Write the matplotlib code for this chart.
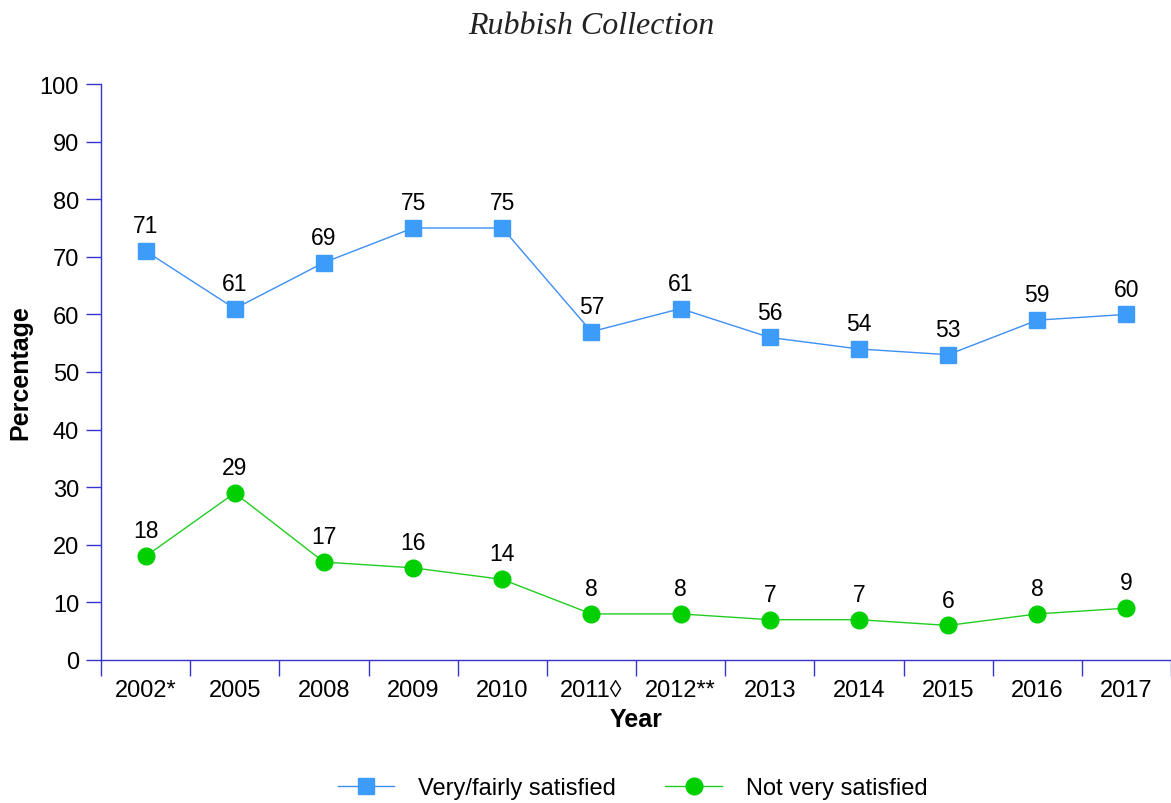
import matplotlib
matplotlib.use("Agg")
import matplotlib.pyplot as plt
from matplotlib.ticker import FixedLocator, NullFormatter

categories = ["2002*", "2005", "2008", "2009", "2010", "2011\u25ca", "2012**",
              "2013", "2014", "2015", "2016", "2017"]
satisfied = [71, 61, 69, 75, 75, 57, 61, 56, 54, 53, 59, 60]
not_satisfied = [18, 29, 17, 16, 14, 8, 8, 7, 7, 6, 8, 9]
yticks = [0, 10, 20, 30, 40, 50, 60, 70, 80, 90, 100]

plt.rcParams['font.family'] = ['Liberation Sans', 'DejaVu Sans']

fig = plt.figure(figsize=(11.71, 8.04), dpi=100)
ax = fig.add_axes([101/1171, 1-661/804, 1-101/1171, (661-85)/804])

x = list(range(len(categories)))
blue_line = "#3d8ff5"
blue_mk = "#3d9bfa"
green_line = "#22cc22"
green_mk = "#00d000"
axis_col = "#3535cc"

ax.plot(x, satisfied, color=blue_line, lw=1.0, marker="s", markersize=11,
        markerfacecolor=blue_mk, markeredgecolor=blue_mk, label="Very/fairly satisfied",
        clip_on=False, zorder=3)
ax.plot(x, not_satisfied, color=green_line, lw=1.0, marker="o", markersize=12,
        markerfacecolor=green_mk, markeredgecolor=green_mk, label="Not very satisfied",
        clip_on=False, zorder=3)

for xi, v in zip(x, satisfied):
    ax.annotate(str(v), (xi, v), xytext=(0, 10), textcoords="offset points",
                ha="center", va="bottom", fontsize=16.5)
for xi, v in zip(x, not_satisfied):
    ax.annotate(str(v), (xi, v), xytext=(0, 10), textcoords="offset points",
                ha="center", va="bottom", fontsize=16.5)

ax.set_xlim(-0.5, len(categories) - 0.5)
ax.set_ylim(0, 100)
ax.set_yticks(yticks)
ax.set_yticklabels([str(t) for t in yticks], fontsize=17)

ax.xaxis.set_major_locator(FixedLocator([i - 0.5 for i in range(len(categories) + 1)]))
ax.xaxis.set_major_formatter(NullFormatter())
ax.xaxis.set_minor_locator(FixedLocator(x))
ax.set_xticklabels(categories, minor=True, fontsize=17)
ax.tick_params(axis="x", which="major", length=11.5, width=1, color=axis_col, direction="out")
ax.tick_params(axis="x", which="minor", length=0, pad=14)
ax.tick_params(axis="y", length=10.8, width=1, color=axis_col, direction="out", pad=5)

for s in ["top", "right"]:
    ax.spines[s].set_visible(False)
for s in ["left", "bottom"]:
    ax.spines[s].set_color(axis_col)
    ax.spines[s].set_linewidth(1)

ax.set_ylabel("Percentage", fontsize=18, fontweight="bold", labelpad=5)
ax.set_xlabel("Year", fontsize=18, fontweight="bold", labelpad=4)

fig.suptitle("Rubbish Collection", x=591/1171, y=1-26/804, va="center",
             fontsize=23, fontstyle="italic", family=["Liberation Serif", "DejaVu Serif"],
             color="#222222")

ax.legend(loc="center", bbox_to_anchor=(0.54, 1 - 789/804), bbox_transform=fig.transFigure,
          ncol=2, frameon=False, fontsize=17, handlelength=2.4, columnspacing=2.1,
          handletextpad=1.0)

fig.savefig("out.png", dpi=100)
